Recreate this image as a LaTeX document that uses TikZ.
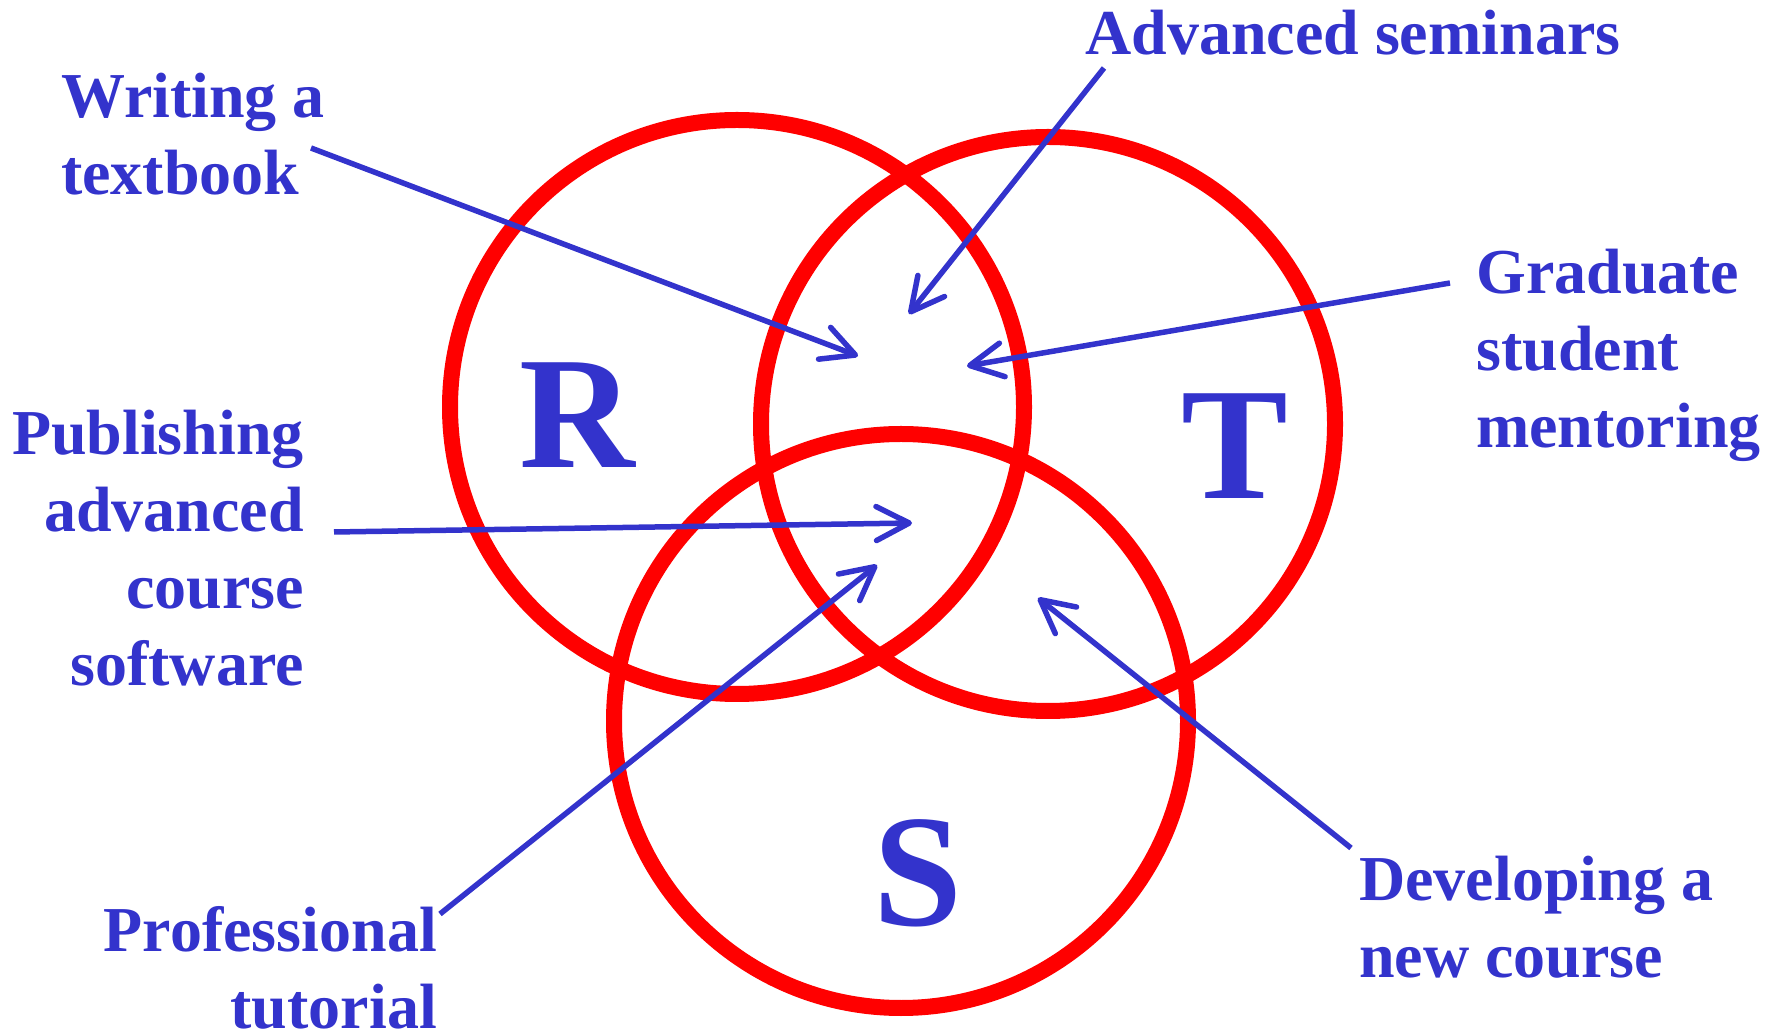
\documentclass[tikz,border=0pt]{standalone}
\usepackage{fontspec}
\setmainfont{Liberation Serif}
\usetikzlibrary{arrows.meta}
\definecolor{lblue}{RGB}{51,51,204}
\definecolor{vred}{RGB}{255,0,0}
\begin{document}
\begin{tikzpicture}[x=1pt,y=1pt,
  ring/.style={draw=vred,line width=16pt},
  lbl/.style={text=lblue,font=\bfseries\fontsize{64}{77}\selectfont,inner sep=0pt},
  big/.style={text=lblue,font=\bfseries\fontsize{160}{190}\selectfont,inner sep=0pt,anchor=base},
  arr/.style={draw=lblue,line width=5.5pt,-{Straight Barb[length=33pt,width=34pt,round]}}]
\useasboundingbox (0,0) rectangle (1775,1034);
% circles
\coordinate (cR) at (737,627);
\coordinate (cT) at (1048,610);
\coordinate (cS) at (901,313);
\draw[ring] (cR) circle[radius=287];
\draw[ring] (cT) circle[radius=287];
\draw[ring] (cS) circle[radius=287];
% big letters
\node[big] (R) at (577,566) {R};
\node[big] (T) at (1235,535) {T};
\node[big] (S) at (918,109) {S};
% labels (base anchor = baseline of last line)
\node[lbl,anchor=base west,align=left] (wt) at (61,839) {Writing a\\textbook};
\node[lbl,anchor=base west,align=left] (as) at (1085,979) {Advanced seminars};
\node[lbl,anchor=base west,align=left] (gs) at (1476,586) {Graduate\\student\\mentoring};
\node[lbl,anchor=base east,align=right] (pa) at (304,348) {Publishing\\advanced\\course\\software};
\node[lbl,anchor=base east,align=right] (pt) at (437,6) {Professional\\tutorial};
\node[lbl,anchor=base west,align=left] (dn) at (1359,57) {Developing a\\new course};
% arrow ends
\coordinate (wt0) at (311,886);  \coordinate (wt1) at (858,678);
\coordinate (as0) at (1104,966); \coordinate (as1) at (909,720);
\coordinate (gs0) at (1450,751); \coordinate (gs1) at (967,668);
\coordinate (pa0) at (334,502);  \coordinate (pa1) at (912,511);
\coordinate (pt0) at (440,120);  \coordinate (pt1) at (877,469);
\coordinate (dn0) at (1351,186); \coordinate (dn1) at (1038,436);
\draw[arr] (wt0) -- (wt1);
\draw[arr] (as0) -- (as1);
\draw[arr] (gs0) -- (gs1);
\draw[arr] (pa0) -- (pa1);
\draw[arr] (pt0) -- (pt1);
\draw[arr] (dn0) -- (dn1);
\end{tikzpicture}
\end{document}
